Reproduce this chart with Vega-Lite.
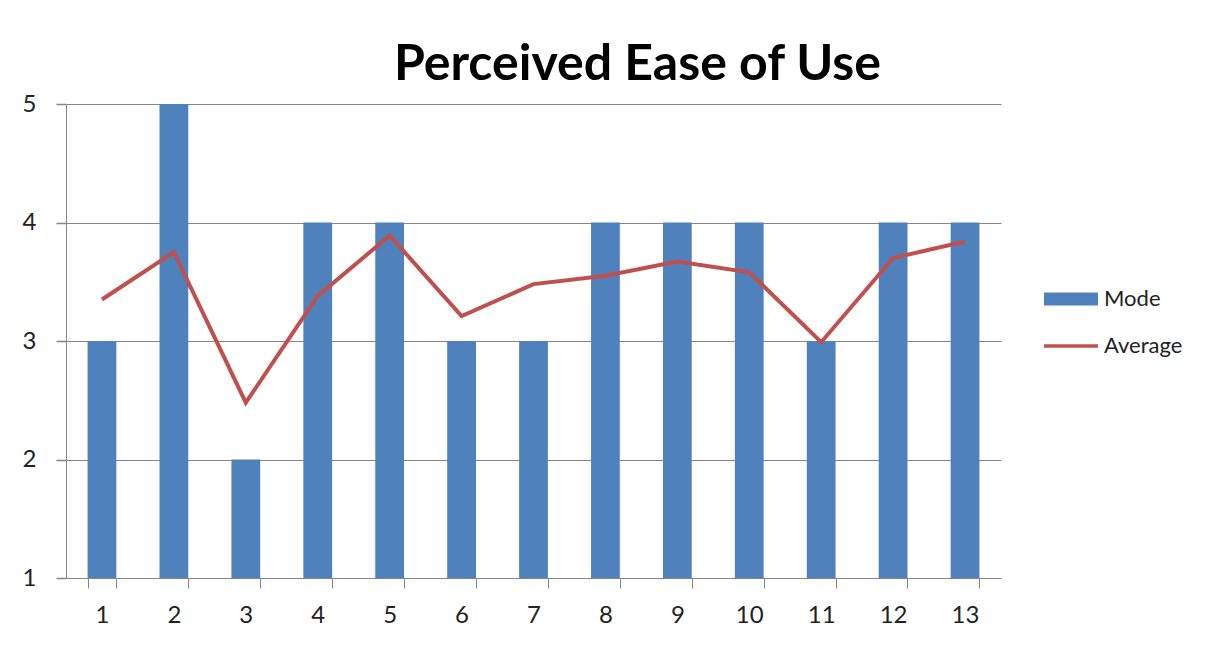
{
  "$schema": "https://vega.github.io/schema/vega-lite/v6.json",
  "width": 935,
  "height": 474,
  "autosize": {"type": "none"},
  "padding": {"left": 66, "top": 104, "right": 218, "bottom": 72},
  "background": "white",
  "title": {
    "text": "Perceived Ease of Use",
    "font": "Lato",
    "fontSize": 50,
    "fontWeight": "bold",
    "color": "#000000",
    "anchor": "middle",
    "dx": 104,
    "offset": 2
  },
  "data": {
    "values": [
      {"q": 1, "mode": 3, "average": 3.35},
      {"q": 2, "mode": 5, "average": 3.75},
      {"q": 3, "mode": 2, "average": 2.48},
      {"q": 4, "mode": 4, "average": 3.38},
      {"q": 5, "mode": 4, "average": 3.89},
      {"q": 6, "mode": 3, "average": 3.21},
      {"q": 7, "mode": 3, "average": 3.48},
      {"q": 8, "mode": 4, "average": 3.55},
      {"q": 9, "mode": 4, "average": 3.67},
      {"q": 10, "mode": 4, "average": 3.58},
      {"q": 11, "mode": 3, "average": 2.99},
      {"q": 12, "mode": 4, "average": 3.70},
      {"q": 13, "mode": 4, "average": 3.84}
    ]
  },
  "encoding": {
    "x": {
      "field": "q",
      "type": "ordinal",
      "scale": {"paddingInner": 0.6, "paddingOuter": 0.3},
      "axis": {
        "title": null,
        "labelAngle": 0,
        "ticks": true,
        "tickBand": "extent",
        "tickSize": 10,
        "tickColor": "#868686",
        "domainColor": "#868686",
        "labelFont": "Lato",
        "labelFontSize": 24,
        "labelColor": "#222222",
        "labelPadding": 15,
        "grid": false
      }
    }
  },
  "layer": [
    {
      "mark": {"type": "bar", "color": "#4F81BD"},
      "encoding": {
        "y": {
          "field": "mode",
          "type": "quantitative",
          "scale": {"domain": [1, 5], "zero": false, "nice": false},
          "axis": {
            "title": null,
            "values": [1, 2, 3, 4, 5],
            "format": "d",
            "grid": true,
            "gridColor": "#868686",
            "gridOpacity": 1,
            "ticks": true,
            "tickSize": 10,
            "tickWidth": 1.5,
            "tickOpacity": 1,
            "tickColor": "#868686",
            "domainColor": "#868686",
            "labelFont": "Lato",
            "labelFontSize": 24,
            "labelColor": "#222222",
            "labelPadding": 20
          }
        },
        "y2": {"datum": 1},
        "color": {
          "datum": "Mode",
          "type": "nominal",
          "scale": {"domain": ["Mode", "Average"], "range": ["#4F81BD", "#C0504D"]},
          "legend": {
            "title": null,
            "orient": "none",
            "legendX": 994,
            "legendY": 184,
            "symbolSize": 400,
            "rowPadding": 25,
            "labelOffset": 22,
            "labelFont": "Lato",
            "labelFontSize": 22,
            "labelColor": "#222222",
            "symbolStrokeWidth": 0,
            "encode": {
              "symbols": {
                "update": {
                  "shape": {"signal": "datum.value === 'Mode' ? 'M-2.7,-0.65H2.7V0.65H-2.7Z' : 'M-2.7,-0.18H2.7V0.18H-2.7Z'"},
                  "fill": {"signal": "datum.value === 'Mode' ? '#4F81BD' : '#C0504D'"},
                  "fillOpacity": {"value": 1},
                  "strokeWidth": {"value": 0}
                }
              }
            }
          }
        }
      }
    },
    {
      "mark": {"type": "line", "strokeWidth": 4, "strokeJoin": "miter"},
      "encoding": {
        "y": {"field": "average", "type": "quantitative"},
        "color": {"datum": "Average", "type": "nominal"}
      }
    }
  ],
  "config": {
    "view": {"stroke": null}
  }
}
